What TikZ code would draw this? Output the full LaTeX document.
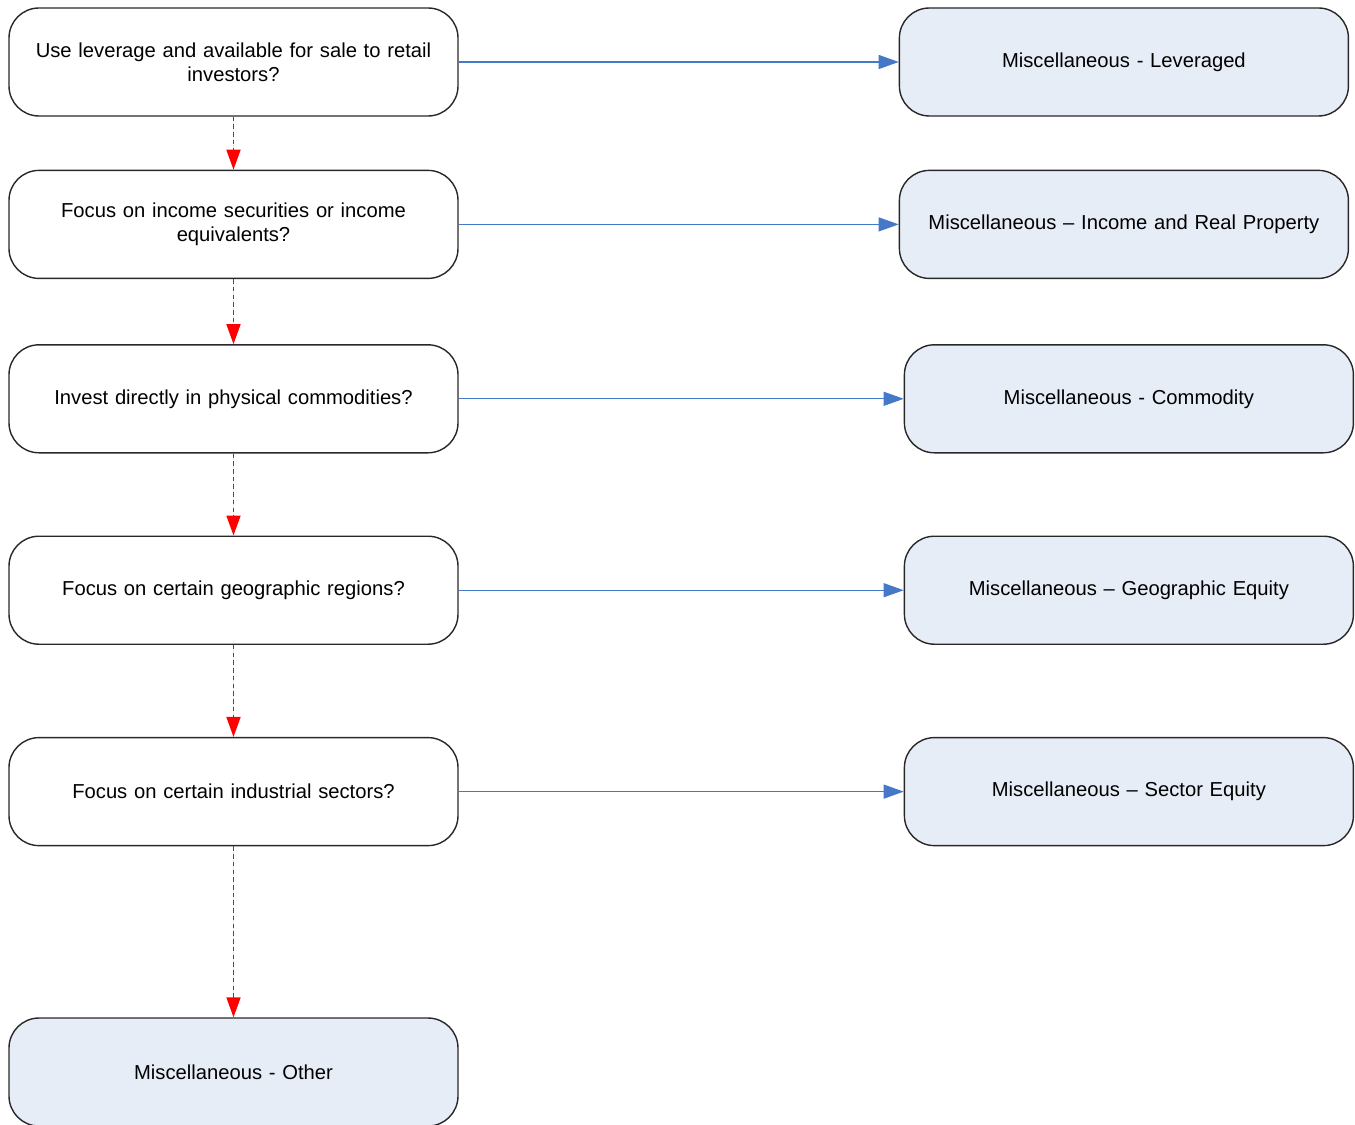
\documentclass[tikz,border=0pt]{standalone}
\usepackage{fontspec}
\setmainfont{Liberation Sans}
\usetikzlibrary{arrows.meta,positioning}
\definecolor{boxline}{RGB}{40,40,40}
\definecolor{softblue}{RGB}{231,237,247}
\definecolor{linkblue}{RGB}{70,120,200}
\definecolor{nored}{RGB}{255,0,0}
\tikzset{
  yesarrow/.style={-{Triangle[length=0.4cm,width=0.28cm]},draw=linkblue,fill=linkblue,line width=0.6pt},
  noarrow/.style={-{Triangle[length=0.4cm,width=0.28cm]},draw=nored,fill=nored,line width=1pt,dash pattern=on 2.6pt off 1.8pt}
}

\begin{document}
\begin{tikzpicture}[box/.style={font=\fontsize{11.5}{13.6}\selectfont,align=center,text width=8.5cm,minimum width=8.98cm,minimum height=2.16cm,inner sep=2pt,rounded corners=0.6cm,draw=boxline,line width=0.8pt}]
    \useasboundingbox (0,0) rectangle (27.1,-22.5);
    \node[box,fill=white] (lev) at (4.67,-1.24) {Use leverage and available for sale to retail\\investors?};
    \node[box,fill=white,below=1.06cm of lev] (inc) {Focus on income securities or income\\equivalents?};
    \node[box,fill=white,below=1.30cm of inc] (com) {Invest directly in physical commodities?};
    \node[box,fill=white,below=1.64cm of com] (geo) {Focus on certain geographic regions?};
    \node[box,fill=white,below=1.84cm of geo] (sec) {Focus on certain industrial sectors?};
    \node[box,fill=softblue,below=3.42cm of sec] (oth) {Miscellaneous - Other};
    \node[box,fill=softblue,right=8.80cm of lev] (mlev) {Miscellaneous - Leveraged};
    \node[box,fill=softblue,right=8.80cm of inc] (minc) {Miscellaneous -- Income and Real Property};
    \node[box,fill=softblue,right=8.90cm of com] (mcom) {Miscellaneous - Commodity};
    \node[box,fill=softblue,right=8.90cm of geo] (mgeo) {Miscellaneous -- Geographic Equity};
    \node[box,fill=softblue,right=8.90cm of sec] (msec) {Miscellaneous -- Sector Equity};
    % yes
    \foreach \a/\b in {lev/mlev,inc/minc,com/mcom,geo/mgeo,sec/msec}
      \draw[yesarrow] (\a)--(\b);
    % no
    \foreach \a/\b in {lev/inc,inc/com,com/geo,geo/sec,sec/oth}
      \draw[noarrow] (\a)--(\b);
  \end{tikzpicture}
\end{document}
